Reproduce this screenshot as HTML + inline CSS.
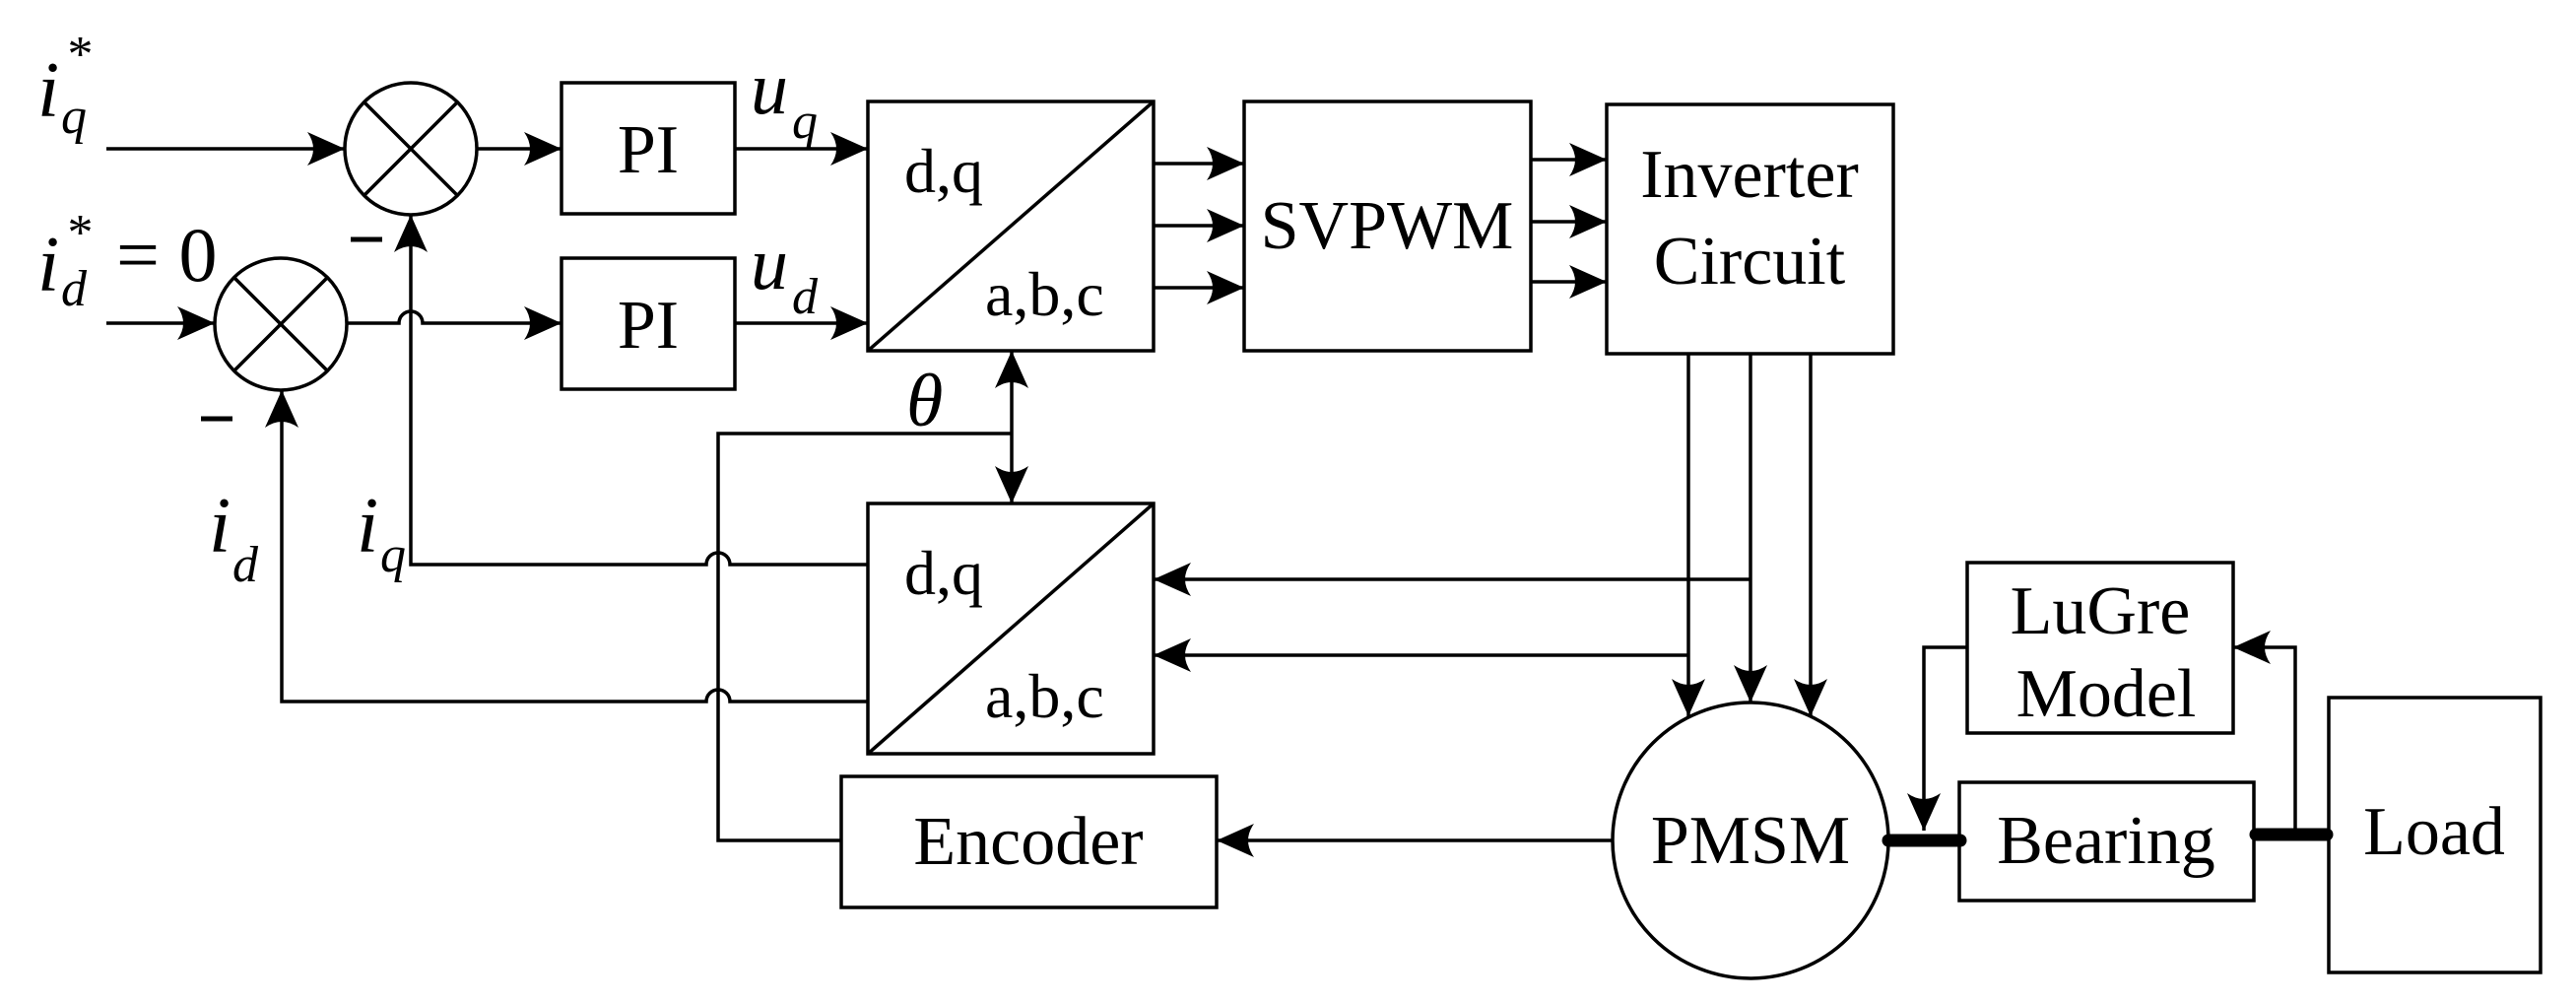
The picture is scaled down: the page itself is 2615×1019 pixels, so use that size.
<!DOCTYPE html>
<html><head><meta charset="utf-8"><style>
html,body{margin:0;padding:0;background:#fff;}
svg{display:block;}
text{font-family:"Liberation Serif",serif;fill:#000;}
</style></head><body>
<svg width="2615" height="1019" viewBox="0 0 2615 1019" xmlns="http://www.w3.org/2000/svg">
<defs>
<marker id="a" markerUnits="userSpaceOnUse" markerWidth="50" markerHeight="50" viewBox="-42 -25 50 50" refX="0" refY="0" orient="auto">
<path d="M0,0 L-38,-17 Q-26,0 -38,17 Z" fill="#000"/>
</marker>
</defs>
<g stroke="#000" stroke-width="3.5" fill="none">
<circle cx="417" cy="151" r="67"/>
<line x1="370" y1="104" x2="464" y2="198"/><line x1="464" y1="104" x2="370" y2="198"/>
<circle cx="285" cy="329" r="67"/>
<line x1="238" y1="282" x2="332" y2="376"/><line x1="332" y1="282" x2="238" y2="376"/>
<rect x="570" y="84" width="176" height="133"/>
<rect x="570" y="262" width="176" height="133"/>
<rect x="881" y="103" width="290" height="253"/>
<line x1="881" y1="356" x2="1171" y2="103"/>
<rect x="881" y="511" width="290" height="254"/>
<line x1="881" y1="765" x2="1171" y2="511"/>
<rect x="1263" y="103" width="291" height="253"/>
<rect x="1631" y="106" width="291" height="253"/>
<rect x="854" y="788" width="381" height="133"/>
<circle cx="1777" cy="853" r="140"/>
<rect x="1997" y="571" width="270" height="173"/>
<rect x="1989" y="794" width="299" height="120"/>
<rect x="2364" y="708" width="215" height="279"/>

<line x1="108" y1="151" x2="350" y2="151" marker-end="url(#a)"/>
<line x1="108" y1="328" x2="218" y2="328" marker-end="url(#a)"/>
<line x1="484" y1="151" x2="570" y2="151" marker-end="url(#a)"/>
<path d="M352,328 L405,328 A12,12 0 0 1 429,328 L570,328" marker-end="url(#a)"/>
<line x1="746" y1="151" x2="881" y2="151" marker-end="url(#a)"/>
<line x1="746" y1="328" x2="881" y2="328" marker-end="url(#a)"/>
<line x1="1171" y1="166" x2="1263" y2="166" marker-end="url(#a)"/>
<line x1="1171" y1="229" x2="1263" y2="229" marker-end="url(#a)"/>
<line x1="1171" y1="292" x2="1263" y2="292" marker-end="url(#a)"/>
<line x1="1554" y1="162" x2="1631" y2="162" marker-end="url(#a)"/>
<line x1="1554" y1="225" x2="1631" y2="225" marker-end="url(#a)"/>
<line x1="1554" y1="286" x2="1631" y2="286" marker-end="url(#a)"/>
<line x1="1714" y1="359" x2="1714" y2="727" marker-end="url(#a)"/>
<line x1="1777" y1="359" x2="1777" y2="713" marker-end="url(#a)"/>
<line x1="1838" y1="359" x2="1838" y2="727" marker-end="url(#a)"/>
<line x1="1777" y1="588" x2="1171" y2="588" marker-end="url(#a)"/>
<line x1="1714" y1="665" x2="1171" y2="665" marker-end="url(#a)"/>
<line x1="1027" y1="440" x2="1027" y2="356" marker-end="url(#a)"/>
<line x1="1027" y1="440" x2="1027" y2="511" marker-end="url(#a)"/>
<polyline points="1027,440 729,440 729,853 854,853"/>
<path d="M881,573 L741,573 A12,12 0 0 0 717,573 L417,573 L417,218" marker-end="url(#a)"/>
<path d="M881,712 L741,712 A12,12 0 0 0 717,712 L286,712 L286,396" marker-end="url(#a)"/>
<line x1="1637" y1="853" x2="1235" y2="853" marker-end="url(#a)"/>
<polyline points="1997,657 1953,657 1953,843" marker-end="url(#a)"/>
<polyline points="2330,847 2330,657 2267,657" marker-end="url(#a)"/>
</g>
<g stroke="#000" stroke-width="13" stroke-linecap="round">
<line x1="1917" y1="853" x2="1990" y2="853"/>
<line x1="2290" y1="847" x2="2362" y2="847"/>
</g>

<g font-size="70" text-anchor="middle">
<text x="658" y="175">PI</text>
<text x="658" y="353">PI</text>
<text x="1408" y="252">SVPWM</text>
<text x="1776" y="200">Inverter</text>
<text x="1776" y="288">Circuit</text>
<text x="1044" y="877">Encoder</text>
<text x="1777" y="876">PMSM</text>
<text x="2132" y="643">LuGre</text>
<text x="2138" y="727">Model</text>
<text x="2138" y="876">Bearing</text>
<text x="2471" y="867">Load</text>
</g>
<g font-size="64">
<text x="918" y="195">d,q</text>
<text x="1000" y="320">a,b,c</text>
<text x="918" y="603">d,q</text>
<text x="1000" y="728">a,b,c</text>
</g>
<g font-style="italic">
<text x="38" y="118" font-size="80">i</text><text x="62" y="135" font-size="52">q</text><text x="66" y="72" font-size="52">*</text>
<text x="38" y="295" font-size="80">i</text><text x="62" y="310" font-size="52">d</text><text x="66" y="253" font-size="52">*</text>
<text x="762" y="115" font-size="76">u</text><text x="804" y="140" font-size="52">q</text>
<text x="762" y="293" font-size="76">u</text><text x="804" y="318" font-size="52">d</text>
<text x="920" y="432" font-size="76">θ</text>
<text x="362" y="560" font-size="80">i</text><text x="386" y="580" font-size="52">q</text>
<text x="212" y="560" font-size="80">i</text><text x="236" y="590" font-size="52">d</text>
</g>
<text x="118" y="285" font-size="78">= 0</text>
<g stroke="#000" stroke-width="5">
<line x1="356" y1="243" x2="388" y2="243"/>
<line x1="204" y1="425" x2="236" y2="425"/>
</g>
</svg>
</body></html>
